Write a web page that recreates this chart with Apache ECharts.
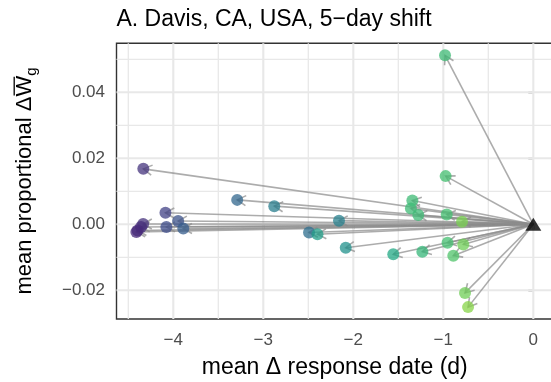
<!DOCTYPE html>
<html>
<head>
<meta charset="utf-8">
<script src="https://cdn.jsdelivr.net/npm/echarts@6/dist/echarts.min.js"></script>
<style>
  html, body { margin: 0; padding: 0; background: #ffffff; }
  #chart { width: 551px; height: 382px; }
</style>
</head>
<body>
<div id="chart"></div>
<script>
// Mean shift in response date (days) for each genotype
const responseShift = [
  -0.981, -0.974, -4.333, -3.290, -2.878, -4.087, -3.946, -4.077, -3.889,
  -4.335, -4.359, -4.396, -4.410, -2.159, -2.492, -2.398, -2.084, -1.556,
  -1.233, -0.953, -0.778, -0.889, -0.759, -0.725, -1.344, -1.360, -1.278,
  -0.962, -0.792
];
// Mean proportional change in geometric mean fitness
const fitnessShift = [
  0.0512, 0.0146, 0.0168, 0.0074, 0.0055, 0.0035, 0.0010, -0.0008, -0.0013,
  0.0001, -0.0008, -0.0019, -0.0023, 0.0011, -0.0025, -0.0030, -0.0071, -0.0091,
  -0.0083, -0.0056, -0.0061, -0.0095, -0.0208, -0.0251, 0.0072, 0.0048, 0.0028,
  0.0030, 0.0008
];
// Position of each genotype on the colour scale (0..1)
const colourValue = [
  0.68, 0.70, 0.15, 0.33, 0.42, 0.19, 0.25, 0.23, 0.29,
  0.14, 0.13, 0.12, 0.12, 0.43, 0.36, 0.55, 0.50, 0.60,
  0.66, 0.70, 0.78, 0.72, 0.78, 0.82, 0.68, 0.68, 0.68,
  0.70, 0.80
];
const origin = [[0, 0]];
const xTicks = [-4, -3, -2, -1, 0];
const yTicks = [-0.02, 0, 0.02, 0.04];
const xMinor = [-4.5, -3.5, -2.5, -1.5, -0.5];
const yMinor = [-0.01, 0.01, 0.03, 0.05];

const titleText = 'A. Davis, CA, USA, 5\u2212day shift';
const xTitle = 'mean \u0394 response date (d)';
const yTitleMain = 'mean proportional \u0394';

// viridis palette stops
const viridis = ['#440154', '#482475', '#414487', '#355f8d', '#2a788e',
                 '#21918c', '#22a884', '#44bf70', '#7ad151', '#bddf26', '#fde725'];
function hexToRgb(h) {
  return [parseInt(h.slice(1, 3), 16), parseInt(h.slice(3, 5), 16), parseInt(h.slice(5, 7), 16)];
}
function viridisColour(t) {
  const p = Math.max(0, Math.min(1, t)) * (viridis.length - 1);
  const i = Math.min(Math.floor(p), viridis.length - 2);
  const f = p - i;
  const a = hexToRgb(viridis[i]), b = hexToRgb(viridis[i + 1]);
  const c = a.map((v, k) => Math.round(v + (b[k] - v) * f));
  return 'rgb(' + c.join(',') + ')';
}

const FONT = '"Liberation Sans", Arial, Helvetica, sans-serif';
const fmtX = v => (v < 0 ? '\u2212' : '') + Math.abs(v).toFixed(0);
const fmtY = v => (v < 0 ? '\u2212' : '') + Math.abs(v).toFixed(2);

const points = responseShift.map((x, i) => ({
  value: [x, fitnessShift[i]],
  itemStyle: { color: viridisColour(colourValue[i]) }
}));

// grid line records: [x, y, horizontal?, major?]
const gridData = [];
xMinor.forEach(v => gridData.push([v, 0, 0, 0]));
yMinor.forEach(v => gridData.push([0, v, 1, 0]));
xTicks.forEach(v => gridData.push([v, 0, 0, 1]));
yTicks.forEach(v => gridData.push([0, v, 1, 1]));

// text measuring for the composite y-axis title
const mctx = document.createElement('canvas').getContext('2d');
function textWidth(t, size) {
  mctx.font = size + 'px ' + FONT;
  return mctx.measureText(t).width;
}
const yFont = 22, subFont = 15;
const wMain = textWidth(yTitleMain, yFont);
const wW = textWidth('W', yFont);
const wG = textWidth('g', subFont);
const wTotal = wMain + wW + wG;
const x0 = -wTotal / 2;

const chart = echarts.init(document.getElementById('chart'), null, { renderer: 'canvas' });
chart.setOption({
  animation: false,
  backgroundColor: '#ffffff',
  grid: {
    left: 116.5, top: 43.3, width: 436.7, height: 275.7,
    show: true, borderColor: '#333333', borderWidth: 1.4,
    backgroundColor: 'transparent', containLabel: false, outerBoundsMode: 'none'
  },
  xAxis: {
    type: 'value', min: -4.631, max: 0.221,
    axisLine: { show: false },
    splitLine: { show: false },
    axisTick: { show: true, length: 5, customValues: xTicks,
                lineStyle: { color: '#333333', width: 1.4 } },
    axisLabel: { customValues: xTicks, formatter: fmtX, color: '#4D4D4D',
                 fontSize: 17, fontFamily: FONT, margin: 13 }
  },
  yAxis: {
    type: 'value', min: -0.0287, max: 0.05485,
    axisLine: { show: false },
    splitLine: { show: false },
    axisTick: { show: true, length: 5, customValues: yTicks,
                lineStyle: { color: '#333333', width: 1.4 } },
    axisLabel: { customValues: yTicks, formatter: fmtY, color: '#4D4D4D',
                 fontSize: 17, fontFamily: FONT, margin: 11.5 }
  },
  series: [
    {
      // panel grid lines
      type: 'custom', z: 1, silent: true,
      data: gridData,
      renderItem: (params, api) => {
        const cs = params.coordSys;
        const p = api.coord([api.value(0), api.value(1)]);
        const horizontal = api.value(2) === 1;
        const major = api.value(3) === 1;
        const shape = horizontal
          ? { x1: cs.x, y1: p[1], x2: cs.x + cs.width, y2: p[1] }
          : { x1: p[0], y1: cs.y, x2: p[0], y2: cs.y + cs.height };
        return {
          type: 'line', shape: shape,
          style: { stroke: '#E8E8E8', lineWidth: major ? 2.1 : 1.3 }
        };
      }
    },
    {
      // arrows from the origin to each genotype
      type: 'custom', z: 2, silent: true,
      data: responseShift.map((x, i) => [x, fitnessShift[i]]),
      renderItem: (params, api) => {
        const p0 = api.coord([0, 0]);
        const p1 = api.coord([api.value(0), api.value(1)]);
        const ang = Math.atan2(p1[1] - p0[1], p1[0] - p0[0]);
        const L = 10, a = Math.PI / 6;
        const b1 = [p1[0] - L * Math.cos(ang - a), p1[1] - L * Math.sin(ang - a)];
        const b2 = [p1[0] - L * Math.cos(ang + a), p1[1] - L * Math.sin(ang + a)];
        const st = { stroke: 'rgba(140,140,140,0.72)', lineWidth: 1.6, fill: null };
        return {
          type: 'group',
          children: [
            { type: 'line', shape: { x1: p0[0], y1: p0[1], x2: p1[0], y2: p1[1] }, style: st },
            { type: 'polyline', shape: { points: [b1, p1, b2] }, style: st }
          ]
        };
      }
    },
    {
      type: 'scatter', z: 3, silent: true,
      symbol: 'circle', symbolSize: 12,
      itemStyle: { opacity: 0.75 },
      data: points
    },
    {
      type: 'scatter', z: 4, silent: true,
      symbol: 'triangle', symbolSize: [16, 13],
      itemStyle: { color: '#000000' },
      data: origin
    }
  ],
  graphic: [
    {
      type: 'text', x: 116.5, y: 19.4, silent: true,
      style: { text: titleText, fontSize: 23, fontFamily: FONT, fill: '#000000',
               align: 'left', verticalAlign: 'middle' }
    },
    {
      type: 'text', x: 334.8, y: 367.8, silent: true,
      style: { text: xTitle, fontSize: 23, fontFamily: FONT, fill: '#000000',
               align: 'center', verticalAlign: 'middle' }
    },
    {
      type: 'group', x: 25, y: 181, rotation: Math.PI / 2, silent: true,
      children: [
        { type: 'text', x: x0, y: 0,
          style: { text: yTitleMain, fontSize: yFont, fontFamily: FONT, fill: '#000000',
                   align: 'left', verticalAlign: 'middle' } },
        { type: 'text', x: x0 + wMain, y: 0,
          style: { text: 'W', fontSize: yFont, fontFamily: FONT, fill: '#000000',
                   align: 'left', verticalAlign: 'middle' } },
        { type: 'line',
          shape: { x1: x0 + wMain + 1, y1: -10.8, x2: x0 + wMain + wW - 1, y2: -10.8 },
          style: { stroke: '#000000', lineWidth: 1.3 } },
        { type: 'text', x: x0 + wMain + wW, y: 7.2,
          style: { text: 'g', fontSize: subFont, fontFamily: FONT, fill: '#000000',
                   align: 'left', verticalAlign: 'middle' } }
      ]
    }
  ]
});
</script>
</body>
</html>
